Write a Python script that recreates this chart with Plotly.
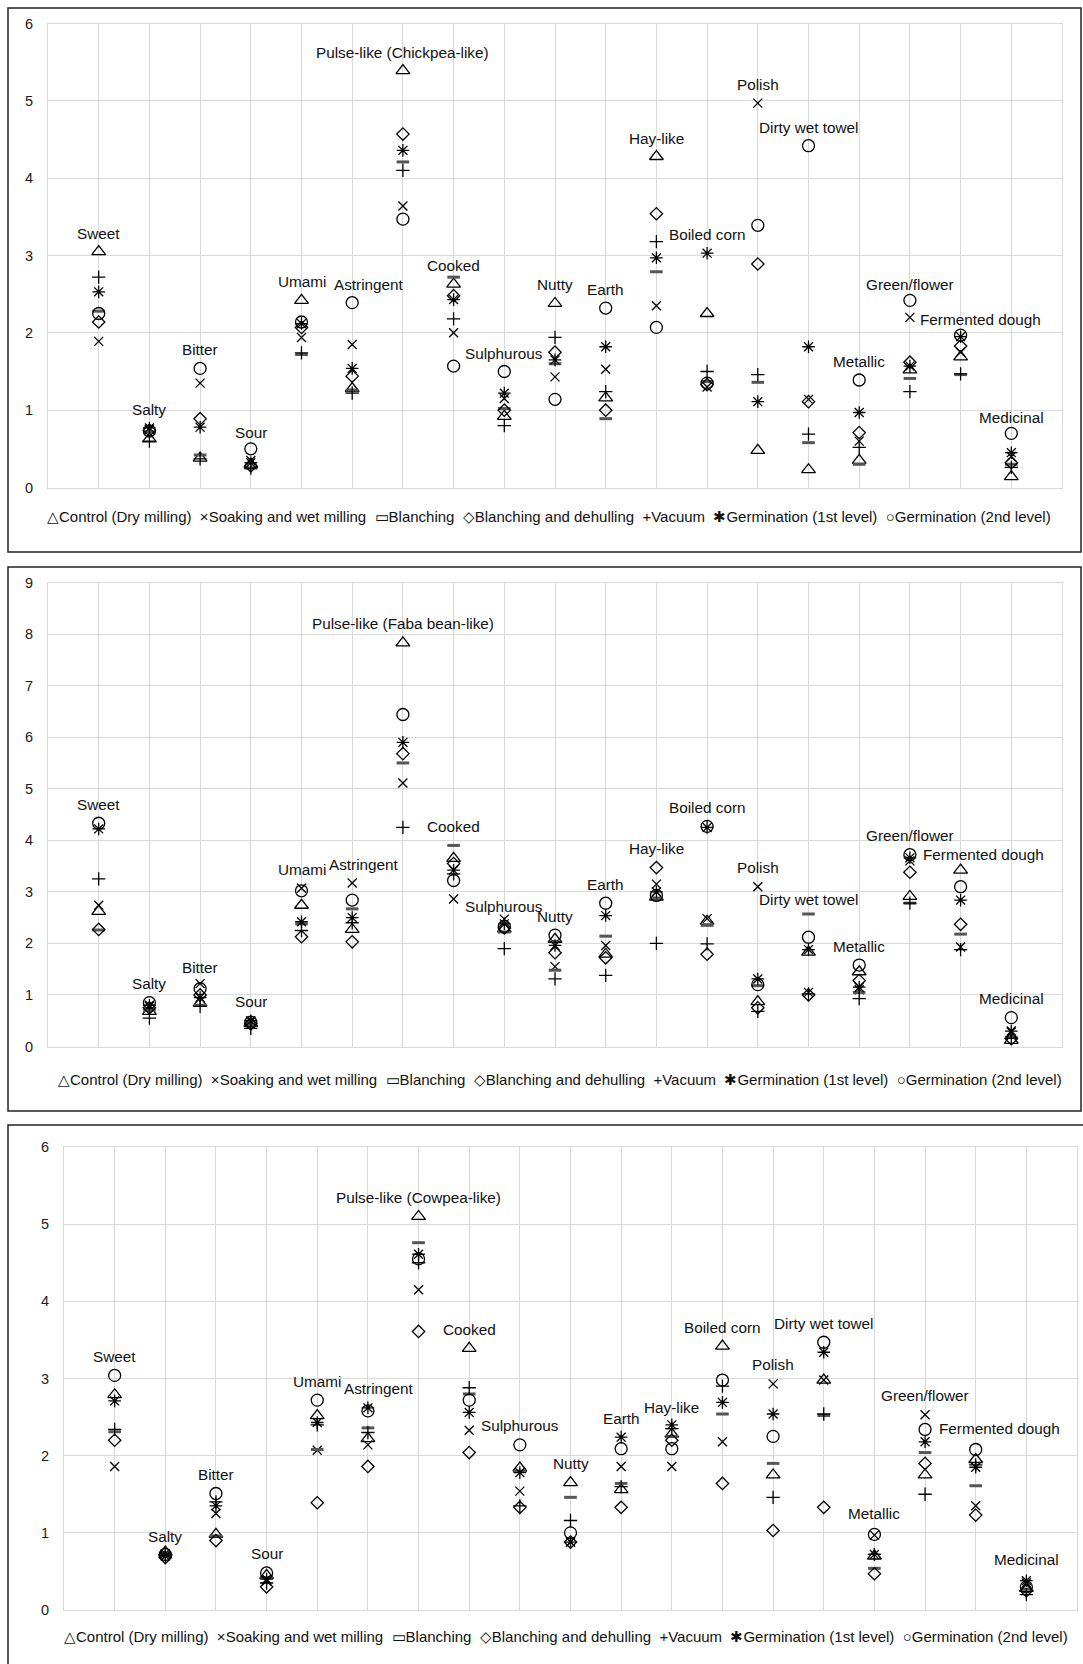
import plotly.graph_objects as go

# ---------------- data ----------------
CATEGORIES = ["Sweet", "Salty", "Bitter", "Sour", "Umami", "Astringent", "Pulse-like",
              "Cooked", "Sulphurous", "Nutty", "Earth", "Hay-like", "Boiled corn", "Polish",
              "Dirty wet towel", "Metallic", "Green/flower", "Fermented dough", "Medicinal"]
PULSE_LABELS = ["Pulse-like (Chickpea-like)", "Pulse-like (Faba bean-like)", "Pulse-like (Cowpea-like)"]
SERIES_NAMES = ["Control (Dry milling)", "Soaking and wet milling", "Blanching",
                "Blanching and dehulling", "Vacuum", "Germination (1st level)",
                "Germination (2nd level)"]
Y_MAX = [6, 9, 6]
Y_TICKS = [[0, 1, 2, 3, 4, 5, 6], [0, 1, 2, 3, 4, 5, 6, 7, 8, 9], [0, 1, 2, 3, 4, 5, 6]]

# Chickpea
chickpea_control = [3.05, 0.63, 0.38, 0.30, 2.42, 1.28, 5.39, 2.63, 0.92, 2.38, 1.16, 4.28, 2.25, 0.48, 0.23, 0.35, 1.52, 1.69, 0.14]
chickpea_soaking = [1.89, 0.75, 1.35, 0.35, 1.94, 1.85, 3.64, 2.00, 1.15, 1.43, 1.53, 2.35, 1.30, 4.97, 1.14, 0.60, 2.20, 1.75, 0.40]
chickpea_blanch = [2.28, 0.72, 0.42, 0.25, 1.72, 1.26, 4.21, 2.72, 1.02, 1.60, 0.89, 2.79, 1.37, 1.36, 0.58, 0.30, 1.41, 1.46, 0.30]
chickpea_dehull = [2.14, 0.74, 0.89, 0.28, 2.07, 1.44, 4.57, 2.48, 1.00, 1.75, 1.00, 3.54, 1.33, 2.89, 1.11, 0.71, 1.62, 1.83, 0.32]
chickpea_vacuum = [2.72, 0.60, 0.37, 0.25, 1.74, 1.22, 4.10, 2.18, 0.80, 1.94, 1.24, 3.18, 1.50, 1.46, 0.69, 0.52, 1.24, 1.47, 0.26]
chickpea_germ1 = [2.53, 0.77, 0.78, 0.32, 2.12, 1.54, 4.36, 2.43, 1.22, 1.65, 1.82, 2.97, 3.03, 1.11, 1.82, 0.97, 1.57, 1.95, 0.45]
chickpea_germ2 = [2.25, 0.73, 1.54, 0.50, 2.14, 2.39, 3.47, 1.57, 1.50, 1.14, 2.32, 2.07, 1.35, 3.39, 4.42, 1.39, 2.42, 1.97, 0.70]

# Faba bean
faba_control = [2.62, 0.68, 0.84, 0.45, 2.74, 2.27, 7.83, 3.65, 2.28, 2.08, 1.79, 2.90, 2.43, 0.87, 1.83, 1.45, 2.91, 3.42, 0.12]
faba_soaking = [2.74, 0.78, 1.22, 0.48, 3.07, 3.17, 5.11, 2.86, 2.47, 1.55, 1.96, 3.15, 2.48, 3.10, 1.05, 1.10, 3.60, 1.93, 0.28]
faba_blanch = [2.26, 0.70, 0.80, 0.42, 2.38, 2.67, 5.50, 3.90, 2.22, 1.48, 2.14, 2.88, 2.35, 1.18, 2.57, 1.05, 2.78, 2.18, 0.18]
faba_dehull = [2.27, 0.75, 1.00, 0.44, 2.13, 2.03, 5.68, 3.55, 2.30, 1.82, 1.72, 3.47, 1.79, 0.75, 1.00, 1.28, 3.38, 2.37, 0.15]
faba_vacuum = [3.25, 0.55, 0.78, 0.35, 2.25, 2.40, 4.25, 3.35, 1.90, 1.31, 1.38, 2.00, 1.99, 0.68, 1.02, 0.93, 2.78, 1.88, 0.16]
faba_germ1 = [4.22, 0.80, 0.95, 0.50, 2.42, 2.50, 5.90, 3.42, 2.38, 1.96, 2.54, 3.00, 4.25, 1.31, 1.88, 1.15, 3.66, 2.84, 0.30]
faba_germ2 = [4.33, 0.85, 1.12, 0.47, 3.02, 2.84, 6.44, 3.22, 2.33, 2.16, 2.78, 2.93, 4.27, 1.20, 2.12, 1.58, 3.72, 3.10, 0.56]

# Cowpea
cowpea_control = [2.79, 0.75, 0.98, 0.45, 2.52, 2.22, 5.10, 3.39, 1.84, 1.65, 1.56, 2.28, 3.42, 1.75, 2.98, 0.70, 1.75, 1.95, 0.28]
cowpea_soaking = [1.86, 0.70, 1.25, 0.38, 2.07, 2.14, 4.15, 2.33, 1.54, 0.88, 1.86, 1.86, 2.18, 2.93, 2.98, 0.97, 2.53, 1.35, 0.35]
cowpea_blanch = [2.31, 0.72, 0.96, 0.42, 2.08, 2.36, 4.76, 2.80, 1.80, 1.46, 1.64, 2.25, 2.54, 1.90, 2.52, 0.54, 2.04, 1.61, 0.27]
cowpea_dehull = [2.20, 0.68, 0.90, 0.30, 1.39, 1.86, 3.61, 2.04, 1.33, 0.88, 1.33, 2.20, 1.64, 1.03, 1.33, 0.47, 1.90, 1.23, 0.25]
cowpea_vacuum = [2.34, 0.70, 1.40, 0.35, 2.40, 2.30, 4.50, 2.88, 1.35, 1.16, 1.60, 2.35, 2.90, 1.46, 2.54, 0.72, 1.50, 1.88, 0.20]
cowpea_germ1 = [2.71, 0.73, 1.35, 0.40, 2.43, 2.62, 4.61, 2.56, 1.78, 0.88, 2.24, 2.40, 2.69, 2.54, 3.34, 0.72, 2.18, 1.85, 0.38]
cowpea_germ2 = [3.04, 0.72, 1.51, 0.48, 2.72, 2.58, 4.55, 2.72, 2.14, 1.00, 2.09, 2.09, 2.98, 2.25, 3.47, 0.98, 2.34, 2.08, 0.30]

PANEL_DATA = [
    [chickpea_control, chickpea_soaking, chickpea_blanch, chickpea_dehull, chickpea_vacuum, chickpea_germ1, chickpea_germ2],
    [faba_control, faba_soaking, faba_blanch, faba_dehull, faba_vacuum, faba_germ1, faba_germ2],
    [cowpea_control, cowpea_soaking, cowpea_blanch, cowpea_dehull, cowpea_vacuum, cowpea_germ1, cowpea_germ2],
]

# ---------------- styles / layout ----------------
W, H = 1083, 1664
FONT = "Liberation Sans, Arial, sans-serif"
GRID = "#d9d9d9"

MARKERS = [
    dict(symbol="triangle-up-open", size=12, color="black", width=1.3),
    dict(symbol="x-thin-open", size=9, color="black", width=1.3),
    dict(symbol="line-ew-open", size=9, color="#555555", width=3),
    dict(symbol="diamond-open", size=9.5, color="black", width=1.3),
    dict(symbol="cross-thin-open", size=9.5, color="black", width=1.3),
    dict(symbol="asterisk-open", size=10.5, color="black", width=1.3),
    dict(symbol="circle-open", size=12, color="black", width=1.3),
]
LEGEND_GLYPHS = ["△", "×", "▭", "◇", "+", "✱", "○"]

# plot areas in pixels: left, right, top, bottom
PLOT_BOX = [(48, 1062, 23.5, 487.5), (48, 1062, 582.5, 1046.5), (64, 1077, 1147, 1610)]
# panel frames in pixels: left, right, top, bottom
FRAME_BOX = [(8, 1081, 8, 552), (8, 1081, 567, 1111), (8, 1090, 1125, 1700)]
LEGEND_POS = [(549, 516), (560, 1079), (566, 1636)]
LEGEND_GAP = ["\u00a0\u00a0", "\u00a0\u00a0", "\u00a0\u00a0"]

LABEL_DX = [{5: 17, 17: 20}, {5: 12, 17: 23}, {5: 11, 17: 24}]
LABEL_DY_DEFAULT = [18.5, 19, 19]
LABEL_DY = [{3: 16, 7: 12, 16: 16, 17: 16, 18: 16},
            {2: 16, 8: 13, 14: 15, 17: 16},
            {1: 16, 11: 17, 15: 21, 17: 21, 18: 21}]

fig = go.Figure()
annotations = []
shapes = []
layout_axes = {}
xs = list(range(1, len(CATEGORIES) + 1))

for p in range(3):
    sfx = "" if p == 0 else str(p + 1)
    xa, ya = "x" + sfx, "y" + sfx
    l, r, t, b = PLOT_BOX[p]
    layout_axes["xaxis" + sfx] = dict(
        domain=[l / W, r / W], anchor=ya, range=[0, 20], dtick=1, tick0=0,
        showticklabels=False, showgrid=True, gridcolor=GRID, gridwidth=1,
        zeroline=False, showline=True, linecolor=GRID, linewidth=1, mirror=True,
        fixedrange=True, automargin=False)
    layout_axes["yaxis" + sfx] = dict(
        domain=[1 - b / H, 1 - t / H], anchor=xa, range=[0, Y_MAX[p]],
        tickvals=Y_TICKS[p], showgrid=True, gridcolor=GRID, gridwidth=1,
        zeroline=False, showline=True, linecolor=GRID, linewidth=1, mirror=True,
        ticks="", ticklabelstandoff=11, automargin=False,
        tickfont=dict(family=FONT, size=14.5, color="#1a1a1a"), fixedrange=True)

    for s, vals in enumerate(PANEL_DATA[p]):
        m = MARKERS[s]
        fig.add_trace(go.Scatter(
            x=xs, y=vals, mode="markers", name=SERIES_NAMES[s], showlegend=False,
            xaxis=xa, yaxis=ya, cliponaxis=False,
            marker=dict(symbol=m["symbol"], size=m["size"], color=m["color"],
                        line=dict(color=m["color"], width=m["width"]))))

    # category labels above the top marker of each category
    for i, cat in enumerate(CATEGORIES):
        text = PULSE_LABELS[p] if cat == "Pulse-like" else cat
        top = max(series[i] for series in PANEL_DATA[p])
        annotations.append(dict(
            x=xs[i], y=top, xref=xa, yref=ya, text=text, showarrow=False,
            xanchor="center", yanchor="middle",
            xshift=LABEL_DX[p].get(i, 0), yshift=LABEL_DY[p].get(i, LABEL_DY_DEFAULT[p]),
            font=dict(family=FONT, size=15.3, color="#111111")))

    # legend row
    parts = []
    for g, n in zip(LEGEND_GLYPHS, SERIES_NAMES):
        parts.append("<span style='font-size:15px'>" + g + "</span>" + n)
    legend_text = LEGEND_GAP[p].join(parts)
    lx, ly = LEGEND_POS[p]
    annotations.append(dict(
        x=lx / W, y=1 - ly / H, xref="paper", yref="paper", text=legend_text,
        showarrow=False, xanchor="center", yanchor="middle",
        font=dict(family=FONT, size=15, color="#111111")))

    fl, fr, ft, fb = FRAME_BOX[p]
    shapes.append(dict(type="rect", xref="paper", yref="paper",
                       x0=fl / W, x1=fr / W, y0=1 - fb / H, y1=1 - ft / H,
                       line=dict(color="#222222", width=1.5), fillcolor="rgba(0,0,0,0)",
                       layer="below"))

fig.update_layout(
    width=W, height=H, margin=dict(l=0, r=0, t=0, b=0),
    paper_bgcolor="white", plot_bgcolor="white",
    font=dict(family=FONT, color="#111111"),
    showlegend=False, annotations=annotations, shapes=shapes,
    **layout_axes)

fig.write_html(
    "out.html",
    config={"displayModeBar": False, "staticPlot": True},
    post_script="document.body.style.margin='0';document.body.style.overflow='hidden';")
